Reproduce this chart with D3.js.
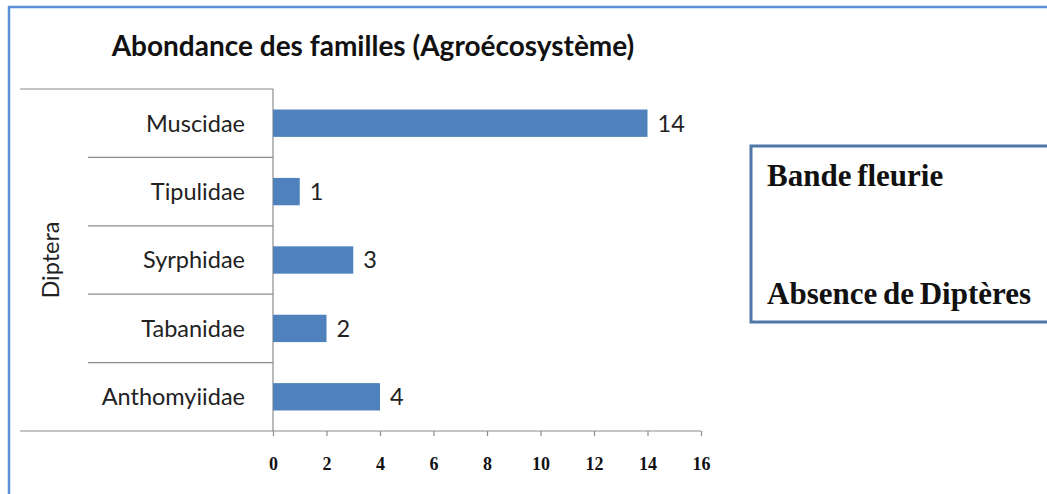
<!DOCTYPE html>
<html>
<head>
<meta charset="utf-8">
<script src="https://cdn.jsdelivr.net/npm/d3@7"></script>
<style>
  body { margin: 0; background: #fff; }
  svg { display: block; }
</style>
</head>
<body>
<div class="canvas"></div>
<script>
// data
const families = ["Muscidae", "Tipulidae", "Syrphidae", "Tabanidae", "Anthomyiidae"];
const counts = [14, 1, 3, 2, 4];
const xTicks = [0, 2, 4, 6, 8, 10, 12, 14, 16];
const title = "Abondance des familles (Agroécosystème)";
const groupLabel = "Diptera";
const boxLines = ["Bande fleurie", "Absence de Diptères"];

const dims = { width: 1047, height: 494 };
const plot = { left: 273, right: 701, top: 89, bottom: 431 };

const svg = d3.select(".canvas")
  .append("svg")
  .attr("width", dims.width)
  .attr("height", dims.height);

// outer frame
svg.append("rect")
  .attr("x", 9).attr("y", 7)
  .attr("width", dims.width + 20).attr("height", dims.height + 20)
  .attr("fill", "none")
  .attr("stroke", "#5b8fd6")
  .attr("stroke-width", 2.5);

// title
svg.append("text")
  .attr("x", 373).attr("y", 56)
  .attr("text-anchor", "middle")
  .attr("font-family", "Lato, sans-serif")
  .attr("font-weight", "bold")
  .attr("font-size", 28)
  .attr("fill", "#111")
  .text(title);

//scales
const x = d3.scaleLinear().domain([0, 16]).range([plot.left, plot.right]);

const y = d3.scaleBand()
  .domain(families)
  .range([plot.top, plot.bottom])
  .paddingInner(0.6)
  .paddingOuter(0.3);

const rows = d3.scaleBand().domain(families).range([plot.top, plot.bottom]);

const graph = svg.append("g");

// category separators
graph.selectAll("line.sep")
  .data(families)
  .enter()
  .append("line")
  .attr("class", "sep")
  .attr("x1", (d, i) => i === 0 ? 20 : 88)
  .attr("x2", plot.left)
  .attr("y1", d => rows(d))
  .attr("y2", d => rows(d))
  .attr("stroke", "#8c8c8c")
  .attr("stroke-width", 1.2);

// bottom axis line (long)
graph.append("line")
  .attr("x1", 20).attr("x2", plot.right)
  .attr("y1", plot.bottom).attr("y2", plot.bottom)
  .attr("stroke", "#8c8c8c")
  .attr("stroke-width", 1.2);

// vertical axis line
graph.append("line")
  .attr("x1", plot.left).attr("x2", plot.left)
  .attr("y1", plot.top).attr("y2", plot.bottom)
  .attr("stroke", "#8c8c8c")
  .attr("stroke-width", 1.2);

// x axis
const xAxis = d3.axisBottom(x)
  .tickValues(xTicks)
  .tickSize(5)
  .tickSizeOuter(0)
  .tickPadding(21);

const axisG = svg.append("g")
  .attr("transform", `translate(0,${plot.bottom})`)
  .call(xAxis);

axisG.select(".domain").remove();
axisG.selectAll(".tick line").attr("stroke", "#8c8c8c").attr("stroke-width", 1.2);
axisG.selectAll(".tick text")
  .attr("font-family", "'Liberation Serif', serif")
  .attr("font-weight", "bold")
  .attr("font-size", 18)
  .attr("fill", "#111");

// bars
const data = families.map((f, i) => ({ name: f, value: counts[i] }));

graph.selectAll("rect.bar")
  .data(data)
  .enter()
  .append("rect")
  .attr("class", "bar")
  .attr("x", x(0))
  .attr("y", d => y(d.name))
  .attr("width", d => x(d.value) - x(0))
  .attr("height", y.bandwidth())
  .attr("fill", "#4f81bd");

// value labels
graph.selectAll("text.val")
  .data(data)
  .enter()
  .append("text")
  .attr("class", "val")
  .attr("x", d => x(d.value) + 10)
  .attr("y", d => y(d.name) + y.bandwidth() / 2)
  .attr("dy", "0.36em")
  .attr("font-family", "Lato, sans-serif")
  .attr("font-size", 23.5)
  .attr("fill", "#222")
  .text(d => d.value);

// category labels
graph.selectAll("text.cat")
  .data(families)
  .enter()
  .append("text")
  .attr("class", "cat")
  .attr("x", 245)
  .attr("y", d => rows(d) + rows.bandwidth() / 2)
  .attr("dy", "0.36em")
  .attr("text-anchor", "end")
  .attr("font-family", "Lato, sans-serif")
  .attr("font-size", 23.5)
  .attr("fill", "#222")
  .text(d => d);

// group label
svg.append("text")
  .attr("transform", `translate(59,${(plot.top + plot.bottom) / 2}) rotate(-90)`)
  .attr("text-anchor", "middle")
  .attr("font-family", "Lato, sans-serif")
  .attr("font-size", 23.5)
  .attr("fill", "#222")
  .text(groupLabel);

// text box
const box = svg.append("g");
box.append("rect")
  .attr("x", 751).attr("y", 146)
  .attr("width", 320).attr("height", 176)
  .attr("fill", "#fff")
  .attr("stroke", "#4f77a8")
  .attr("stroke-width", 3);

box.selectAll("text")
  .data(boxLines)
  .enter()
  .append("text")
  .attr("x", 767)
  .attr("y", (d, i) => i === 0 ? 186 : 304)
  .attr("font-family", "'Liberation Serif', serif")
  .attr("font-weight", "bold")
  .attr("font-size", 31)
  .attr("word-spacing", -2)
  .attr("fill", "#111")
  .text(d => d);
</script>
</body>
</html>
